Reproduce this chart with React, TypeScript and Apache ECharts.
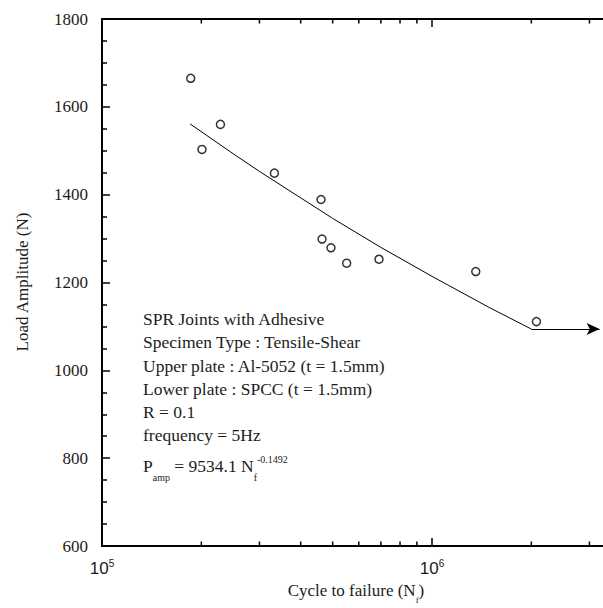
import React, { useEffect, useRef } from "react";
import * as echarts from "echarts";

// Measured specimens: cycles to failure and load amplitude (N)
const cycles = [1.857e5, 2.285e5, 2.009e5, 3.33e5, 4.61e5, 4.642e5, 4.941e5, 5.513e5, 6.908e5, 1.357e6, 2.072e6];
const loads = [1665, 1560, 1503, 1449, 1389, 1299, 1279, 1244, 1253, 1225, 1111];

// Fitted curve P = 9534.1 Nf^-0.1492
const fitCycles = [1.85e5, 2.5e5, 3e5, 5e5, 7e5, 1e6, 1.5e6, 2e6];
const fitLoads = [1561, 1493, 1453, 1346, 1280, 1214, 1142, 1094];

// Endurance arrow
const arrowStart = [2e6, 1094];
const arrowEnd = [3.22e6, 1094];

// Ticks of the log axis
const majorTickValues = [1e5, 1e6];
const minorTickValues = [2e5, 3e5, 4e5, 5e5, 6e5, 7e5, 8e5, 9e5, 2e6, 3e6];

const infoLines = [
  "SPR Joints with Adhesive",
  "Specimen Type : Tensile-Shear",
  "Upper plate : Al-5052 (t = 1.5mm)",
  "Lower plate : SPCC (t = 1.5mm)",
  "R = 0.1",
  "frequency = 5Hz",
];

const SERIF = "'Liberation Serif', 'Times New Roman', serif";
const SANS = "'Liberation Sans', Arial, sans-serif";
const INK = "#1c1c1c";

export default function App() {
  const ref = useRef<HTMLDivElement>(null);

  useEffect(() => {
    if (!ref.current) return;
    const chart = echarts.init(ref.current, null, { renderer: "svg" });

    const xMin = 1e5;
    const xMax = 3.5e6;
    const gridLeft = 102;
    const gridTop = 19;
    const gridHeight = 527;
    const gridWidth = 330 * Math.log10(xMax / xMin);

    const lineTop = [319, 342, 365.5, 388.5, 411.5, 434.5];

    const tickSeries = (values: number[], len: number) => ({
      type: "custom",
      silent: true,
      clip: false,
      data: values.map((v) => [v, 600]),
      encode: { x: 0, y: 1 },
      renderItem: (params: any, api: any) => {
        const v = api.value(0);
        const b = api.coord([v, 600]);
        const t = api.coord([v, 1800]);
        const st = { stroke: "#000", lineWidth: 1.5, fill: "none" };
        return {
          type: "group",
          children: [
            { type: "line", shape: { x1: b[0], y1: b[1], x2: b[0], y2: b[1] - len }, style: st },
            { type: "line", shape: { x1: t[0], y1: t[1], x2: t[0], y2: t[1] + len }, style: st },
          ],
        };
      },
      z: 4,
    });

    const option: any = {
      animation: false,
      backgroundColor: "#ffffff",
      grid: {
        left: gridLeft,
        top: gridTop,
        width: gridWidth,
        height: gridHeight,
        containLabel: false,
        outerBoundsMode: "none",
      },
      xAxis: [
        {
          type: "log",
          logBase: 10,
          min: xMin,
          max: xMax,
          position: "bottom",
          axisLine: { show: true, lineStyle: { color: "#000", width: 2 } },
          axisTick: { show: false },
          splitLine: { show: false },
          axisLabel: {
            show: true,
            margin: 12,
            showMaxLabel: false,
            formatter: (v: number) => {
              const e = Math.log10(v);
              if (Math.abs(e - Math.round(e)) > 1e-6) return "";
              return "{b|10}{s|" + Math.round(e) + "}";
            },
            rich: {
              b: { fontFamily: SANS, fontSize: 17, color: INK, verticalAlign: "bottom", lineHeight: 19 },
              s: { fontFamily: SANS, fontSize: 10, color: INK, verticalAlign: "bottom", lineHeight: 19, padding: [0, 0, 9, 0] },
            },
          },
        },
        {
          type: "log",
          logBase: 10,
          min: xMin,
          max: xMax,
          position: "top",
          axisLine: { show: true, lineStyle: { color: "#000", width: 2 } },
          axisTick: { show: false },
          splitLine: { show: false },
          axisLabel: { show: false },
        },
      ],
      yAxis: {
        type: "value",
        min: 600,
        max: 1800,
        interval: 200,
        axisLine: { show: true, lineStyle: { color: "#000", width: 2 } },
        axisTick: { show: true, inside: true, length: 8, lineStyle: { color: "#000", width: 1.5 } },
        minorTick: { show: true, splitNumber: 4, length: 5, lineStyle: { color: "#000", width: 1.5 } },
        splitLine: { show: false },
        axisLabel: {
          margin: 14,
          fontFamily: SERIF,
          fontSize: 17,
          color: INK,
          formatter: (v: number) => String(v),
        },
      },
      series: [
        {
          type: "line",
          data: fitCycles.map((c, i) => [c, fitLoads[i]]),
          showSymbol: false,
          symbol: "none",
          lineStyle: { color: "#000", width: 1 },
          silent: true,
          z: 2,
          markLine: {
            silent: true,
            symbol: ["none", "arrow"],
            symbolSize: [9, 13],
            label: { show: false },
            lineStyle: { color: "#000", width: 1, type: "solid" },
            data: [[{ coord: arrowStart }, { coord: arrowEnd }]],
          },
        },
        {
          type: "scatter",
          data: cycles.map((c, i) => [c, loads[i]]),
          symbol: "circle",
          symbolSize: 8,
          itemStyle: { color: "transparent", borderColor: "#000", borderWidth: 1.5 },
          silent: true,
          z: 3,
        },
        tickSeries(majorTickValues, 8),
        tickSeries(minorTickValues, 4.5),
      ],
      graphic: [
        ...infoLines.map((txt, i) => ({
          type: "text",
          x: 143,
          y: lineTop[i],
          style: { text: txt, fontFamily: SERIF, fontSize: 17.5, fill: INK, align: "left", verticalAlign: "middle" },
        })),
        {
          type: "text",
          x: 143,
          y: 465,
          style: {
            text: "{a|P}{sub|amp}{a| = 9534.1 N}{sub|f}{sup|-0.1492}",
            fontFamily: SERIF,
            fill: INK,
            align: "left",
            verticalAlign: "middle",
            rich: {
              a: { fontFamily: SERIF, fontSize: 17.5, fill: INK, lineHeight: 20, verticalAlign: "bottom" },
              sub: { fontFamily: SERIF, fontSize: 10, fill: INK, lineHeight: 20, verticalAlign: "bottom", padding: [0, 0, -7, 0] },
              sup: { fontFamily: SERIF, fontSize: 10, fill: INK, lineHeight: 20, verticalAlign: "bottom", padding: [0, 0, 11, 0] },
            },
          },
        },
        {
          type: "text",
          x: 22,
          y: 282,
          rotation: Math.PI / 2,
          style: { text: "Load Amplitude (N)", fontFamily: SERIF, fontSize: 17, fill: INK, align: "center", verticalAlign: "middle" },
        },
        {
          type: "text",
          x: 356,
          y: 589,
          style: {
            text: "{a|Cycle to failure (N}{sub|f}{a|)}",
            fill: INK,
            align: "center",
            verticalAlign: "middle",
            rich: {
              a: { fontFamily: SERIF, fontSize: 17, fill: INK, lineHeight: 20, verticalAlign: "bottom" },
              sub: { fontFamily: SERIF, fontSize: 9, fill: INK, lineHeight: 20, verticalAlign: "bottom", padding: [0, 0, -5, 0] },
            },
          },
        },
      ],
    };

    chart.setOption(option);
    return () => chart.dispose();
  }, []);

  return <div ref={ref} style={{ position: "fixed", left: 0, top: 0, width: 603, height: 608 }} />;
}
